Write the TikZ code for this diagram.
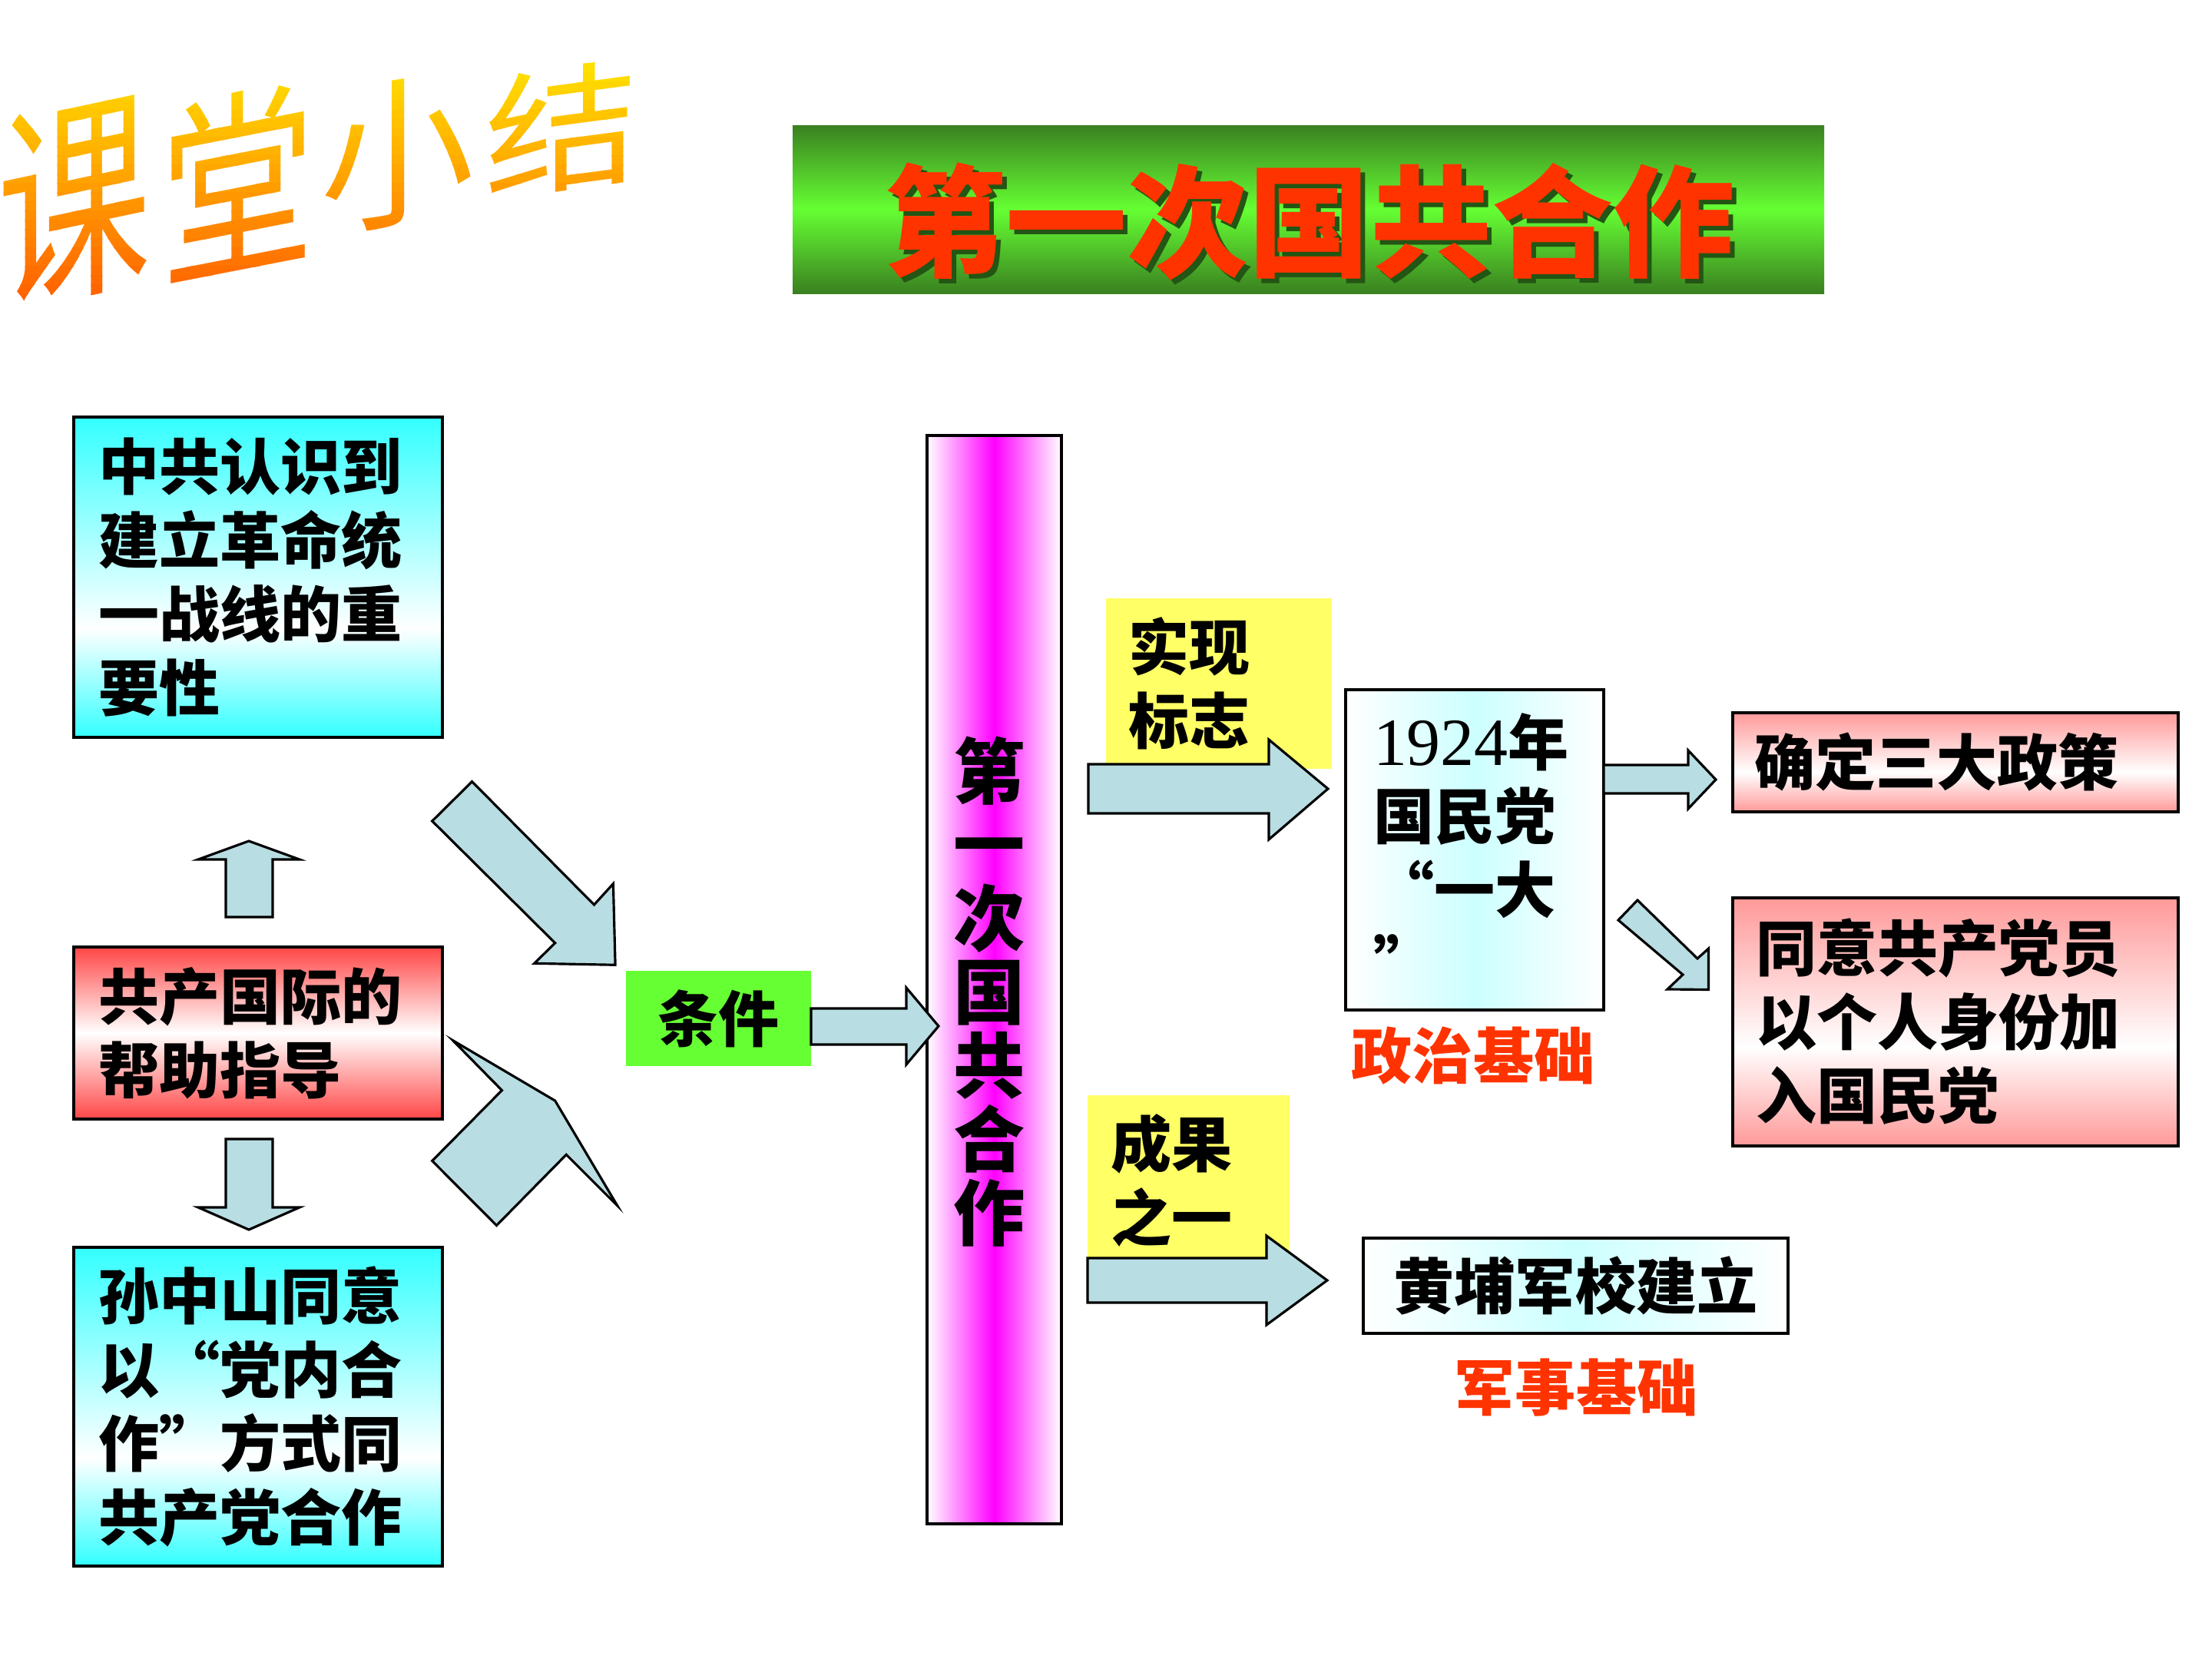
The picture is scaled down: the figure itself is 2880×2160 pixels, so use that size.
\documentclass[tikz,border=0pt]{standalone}
\usepackage{fontspec}
\newfontfamily\cjk{Noto Sans CJK SC}
\newfontfamily\digf{Liberation Serif}
\newdimen\pxu \pxu=0.28453pt
\definecolor{arrowblue}{RGB}{184,221,226}
\definecolor{cyC}{RGB}{51,255,255}
\definecolor{redC}{RGB}{255,70,70}
\definecolor{pinkC}{RGB}{255,153,153}
\definecolor{magC}{RGB}{255,0,255}
\definecolor{yelC}{RGB}{255,255,102}
\definecolor{grnC}{RGB}{102,255,51}
\definecolor{bandD}{RGB}{58,128,32}
\definecolor{bandL}{RGB}{102,255,51}
\definecolor{lblRed}{RGB}{255,51,0}
\definecolor{shadowG}{RGB}{35,85,20}
\definecolor{lcy}{RGB}{204,255,255}
\definecolor{wtop}{RGB}{255,228,0}
\definecolor{wbot}{RGB}{255,80,0}
\pgfdeclareverticalshading{cyanband}{100bp}{color(0bp)=(cyC); color(25bp)=(cyC); color(42bp)=(white); color(75bp)=(cyC); color(100bp)=(cyC)}
\pgfdeclareverticalshading{pinkband}{100bp}{color(0bp)=(pinkC); color(25bp)=(pinkC); color(45bp)=(white); color(75bp)=(pinkC); color(100bp)=(pinkC)}
\newcommand\lqf{\makebox[1em][r]{“}}
\newcommand\rqf{\makebox[1em][l]{”}}
\tikzset{
  frame/.style={draw=black, line width=1pt, inner sep=0pt, outer sep=0pt},
  btxt/.style={font=\cjk\bfseries\fontsize{22.5}{27.3}\selectfont, align=left},
  barrow/.style={fill=arrowblue, draw=black, line width=0.9pt, line join=miter},
  wart/.style={font=\cjk\fontsize{57}{60}\selectfont, inner sep=0pt},
  redlbl/.style={font=\cjk\bfseries\fontsize{22.5}{27}\selectfont, text=lblRed, inner sep=0pt},
  bantext/.style={font=\cjk\bfseries\fontsize{45}{50}\selectfont, inner sep=0pt},
}
\begin{document}
\begin{tikzpicture}[x=0.28453pt, y=-0.28453pt]
\useasboundingbox (0,0) rectangle (2880,2160);
\fill[white] (0,0) rectangle (2880,2160);

% WordArt title with vertical gradient (strips)
\foreach \i in {0,...,29}{
  \pgfmathsetmacro\ya{70+\i*12}
  \pgfmathsetmacro\yb{\ya+13}
  \pgfmathtruncatemacro\pc{\i*100/29}
  \begin{scope}
    \clip (-10,\ya) rectangle (900,\yb);
    \begin{scope}[shift={(97,262)}]
      \node[wart, text=wbot!\pc!wtop, yscale=1.42, yslant=0.15] (wa\i) at (0,0) {课};
    \end{scope}
    \begin{scope}[shift={(310,236)}]
      \node[wart, text=wbot!\pc!wtop, yscale=1.3, yslant=0.15] (wb\i) at (0,0) {堂};
    \end{scope}
    \begin{scope}[shift={(518,199)}]
      \node[wart, text=wbot!\pc!wtop, yscale=1.05, yslant=0.15] (wc\i) at (0,0) {小};
    \end{scope}
    \begin{scope}[shift={(732,168)}]
      \node[wart, text=wbot!\pc!wtop, yscale=0.88, yslant=0.15] (wd\i) at (0,0) {结};
    \end{scope}
  \end{scope}
}

% banner
\node[shade, top color=bandD, bottom color=bandD, middle color=bandL, minimum width=1343\pxu, minimum height=219\pxu, inner sep=0pt] (ban) at (1703.5,272.5) {};
\node[bantext, text=shadowG] (bansh) at (1711,294) {第一次国共合作};
\node[bantext, text=lblRed] (bantxt) at (1705,288) {第一次国共合作};

% left boxes
\node[frame, btxt, shade, shading=cyanband, minimum width=480\pxu, minimum height=417\pxu, text width=416\pxu, inner xsep=32\pxu] (b1) at (336,751.5) {中共认识到\\建立革命统\\一战线的重\\要性};
\node[frame, btxt, top color=redC, bottom color=redC, middle color=white, minimum width=480\pxu, minimum height=224\pxu, text width=416\pxu, inner xsep=32\pxu] (b2) at (336,1345) {共产国际的\\帮助指导};
\node[frame, btxt, shade, shading=cyanband, minimum width=480\pxu, minimum height=415\pxu, text width=416\pxu, inner xsep=32\pxu] (b3) at (336,1831.5) {孙中山同意\\以\lqf 党内合\\作\rqf 方式同\\共产党合作};

% vertical bar
\node[frame, left color=white, right color=white, middle color=magC, minimum width=175\pxu, minimum height=1417\pxu] (bar) at (1294.5,1275.5) {};
\node[font=\cjk\bfseries\fontsize{26.5}{27.3}\selectfont, align=center, inner sep=0pt] (bartxt) at (1288,1291) {第\\一\\次\\国\\共\\合\\作};

% condition
\node[fill=grnC, btxt, minimum width=241\pxu, minimum height=124\pxu, inner sep=0pt] (cond) at (935.5,1326) {条件};

% yellow labels
\node[fill=yelC, btxt, minimum width=294\pxu, minimum height=222\pxu, text width=236\pxu, inner xsep=29\pxu, inner ysep=0pt] (y1) at (1587,890) {实现\\标志};
\node[fill=yelC, btxt, minimum width=263\pxu, minimum height=222\pxu, text width=203\pxu, inner xsep=30\pxu, inner ysep=0pt] (y2) at (1547.5,1537) {成果\\之一};

% right boxes
\node[frame, btxt, left color=white, right color=white, middle color=lcy, minimum width=336\pxu, minimum height=417\pxu, text width=264\pxu, inner xsep=36\pxu] (k) at (1920,1106.5) {{\digf\mdseries\fontsize{25}{27.3}\selectfont 1924}年\\国民党\\\lqf 一大\\\rqf};
\node[frame, btxt, shade, shading=pinkband, minimum width=580\pxu, minimum height=129\pxu, text width=524\pxu, inner xsep=28\pxu] (p1) at (2546,992.5) {确定三大政策};
\node[frame, btxt, shade, shading=pinkband, minimum width=580\pxu, minimum height=323\pxu, text width=520\pxu, inner xsep=30\pxu] (p2) at (2546,1330.5) {同意共产党员\\以个人身份加\\入国民党};
\node[frame, btxt, left color=white, right color=white, middle color=lcy, minimum width=553\pxu, minimum height=124\pxu] (hp) at (2051.5,1674) {黄埔军校建立};
\node[redlbl] (lz) at (1918,1375) {政治基础};
\node[redlbl] (lj) at (2052,1807) {军事基础};

% block arrows
\draw[barrow] (294,1194) -- (294,1119) -- (258,1119) -- (324,1095) -- (390,1119) -- (355,1119) -- (355,1194) -- cycle;
\draw[barrow] (294,1483) -- (294,1572) -- (258,1572) -- (324,1601) -- (390,1572) -- (355,1572) -- (355,1483) -- cycle;
\draw[barrow] (614.6,1017.6) -- (773.5,1178.0) -- (798.4,1150.6) -- (801.1,1256.3) -- (695.7,1254.3) -- (722.7,1227.8) -- (562.7,1069.0) -- cycle;
\draw[barrow] (589.7,1354.7) -- (722.7,1433.1) -- (803.8,1569.8) -- (737.3,1503.3) -- (646.5,1595.5) -- (562.7,1511.4) -- (653.5,1419.6) -- cycle;
\draw[barrow] (1056,1313) -- (1180,1313) -- (1180,1286) -- (1222,1336) -- (1180,1386) -- (1180,1360) -- (1056,1360) -- cycle;
\draw[barrow] (1417,995) -- (1652,995) -- (1652,963) -- (1729,1027) -- (1652,1093) -- (1652,1059) -- (1417,1059) -- cycle;
\draw[barrow] (2088,996) -- (2198,996) -- (2198,977) -- (2234,1015) -- (2198,1053) -- (2198,1033) -- (2088,1033) -- cycle;
\draw[barrow] (2132,1172) -- (2210,1248) -- (2224.5,1235) -- (2224.5,1288.5) -- (2171,1288) -- (2191,1269) -- (2107,1198) -- cycle;
\draw[barrow] (1416,1638) -- (1649,1638) -- (1649,1609) -- (1728,1667) -- (1649,1725) -- (1649,1696) -- (1416,1696) -- cycle;
\end{tikzpicture}
\end{document}
